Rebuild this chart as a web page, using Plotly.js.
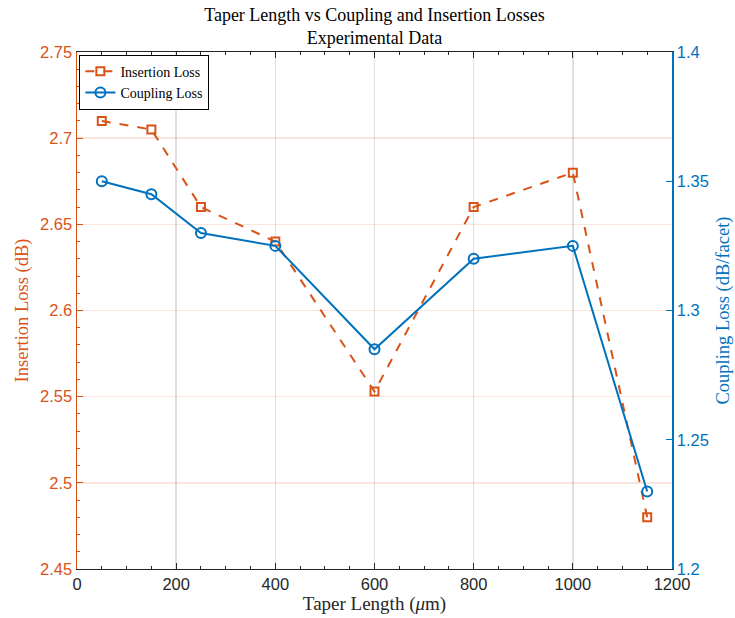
<!DOCTYPE html>
<html>
<head>
<meta charset="utf-8">
<script src="https://cdn.plot.ly/plotly-3.0.1.min.js"></script>
<style>
  html, body { margin: 0; padding: 0; background: #fff; }
  #chart { width: 735px; height: 618px; }
</style>
</head>
<body>
<div id="chart"></div>
<script>
// Taper lengths in micrometres
const taperLength = [50, 150, 250, 400, 600, 800, 1000, 1150];
// Total insertion loss (dB), left axis
const insertionLoss = [2.71, 2.705, 2.66, 2.64, 2.553, 2.66, 2.68, 2.48];
// Coupling loss per facet (dB/facet), right axis
const couplingLoss = [1.35, 1.345, 1.33, 1.325, 1.285, 1.32, 1.325, 1.23];

const orange = '#D95319';
const blue = '#0072BD';
const dark = '#262626';
const serif = 'Liberation Serif, DejaVu Serif, serif';
const sans = 'Liberation Sans, Arial, sans-serif';

const traces = [
  {
    x: taperLength, y: insertionLoss, name: 'Insertion Loss',
    type: 'scatter', mode: 'lines+markers', yaxis: 'y',
    line: {color: orange, width: 2, dash: 'dash'},
    marker: {symbol: 'square-open', size: 8, color: orange, line: {width: 2, color: orange}}
  },
  {
    x: taperLength, y: couplingLoss, name: 'Coupling Loss',
    type: 'scatter', mode: 'lines+markers', yaxis: 'y2',
    line: {color: blue, width: 2},
    marker: {symbol: 'circle-open', size: 10, color: blue, line: {width: 2, color: blue}}
  }
];

const layout = {
  width: 735, height: 618,
  margin: {l: 77, r: 63, t: 52, b: 49},
  paper_bgcolor: '#fff', plot_bgcolor: '#fff',
  showlegend: true,
  title: {
    text: 'Taper Length vs Coupling and Insertion Losses<br>Experimental Data',
    font: {family: serif, size: 18, color: '#000'},
    x: 0.5, xref: 'paper', xanchor: 'center',
    y: 1 - 21 / 618, yref: 'container', yanchor: 'middle'
  },
  xaxis: {
    range: [0, 1200], dtick: 200, tick0: 0,
    showline: true, linecolor: dark, linewidth: 1, mirror: 'ticks',
    ticks: 'inside', ticklen: 6, tickcolor: dark,
    minor: {dtick: 50, ticks: 'inside', ticklen: 3, tickcolor: dark, showgrid: false},
    showgrid: true, gridcolor: '#e0e0e0', gridwidth: 1.5,
    zeroline: false,
    tickfont: {family: sans, size: 16.5, color: dark},
    title: {text: 'Taper Length (<i>μ</i>m)', font: {family: serif, size: 19, color: dark}, standoff: 4}
  },
  yaxis: {
    range: [2.45, 2.75], dtick: 0.05, tick0: 2.45,
    showline: true, linecolor: orange, linewidth: 1.5,
    ticks: 'inside', ticklen: 6, tickcolor: orange,
    minor: {dtick: 0.01, ticks: 'inside', ticklen: 3, tickcolor: orange, showgrid: false},
    showgrid: true, gridcolor: 'rgba(217,83,25,0.15)', gridwidth: 1.5,
    zeroline: false,
    tickfont: {family: sans, size: 16.5, color: orange},
    title: {text: 'Insertion Loss (dB)', font: {family: serif, size: 18.5, color: orange}, standoff: 6}
  },
  yaxis2: {
    range: [1.2, 1.4], dtick: 0.05, tick0: 1.2,
    overlaying: 'y', side: 'right',
    showline: true, linecolor: blue, linewidth: 1.5,
    ticks: 'inside', ticklen: 6, tickcolor: blue,
    showgrid: false, zeroline: false,
    tickfont: {family: sans, size: 16.5, color: blue},
    title: {text: 'Coupling Loss (dB/facet)', font: {family: serif, size: 18.5, color: blue}, standoff: 8}
  },
  legend: {
    x: 0.004, y: 0.995, xanchor: 'left', yanchor: 'top',
    bgcolor: '#fff', bordercolor: '#000', borderwidth: 1,
    font: {family: serif, size: 14, color: '#000'},
    tracegroupgap: 0, itemwidth: 30
  }
};

Plotly.newPlot('chart', traces, layout, {displayModeBar: false, staticPlot: true});
</script>
</body>
</html>
